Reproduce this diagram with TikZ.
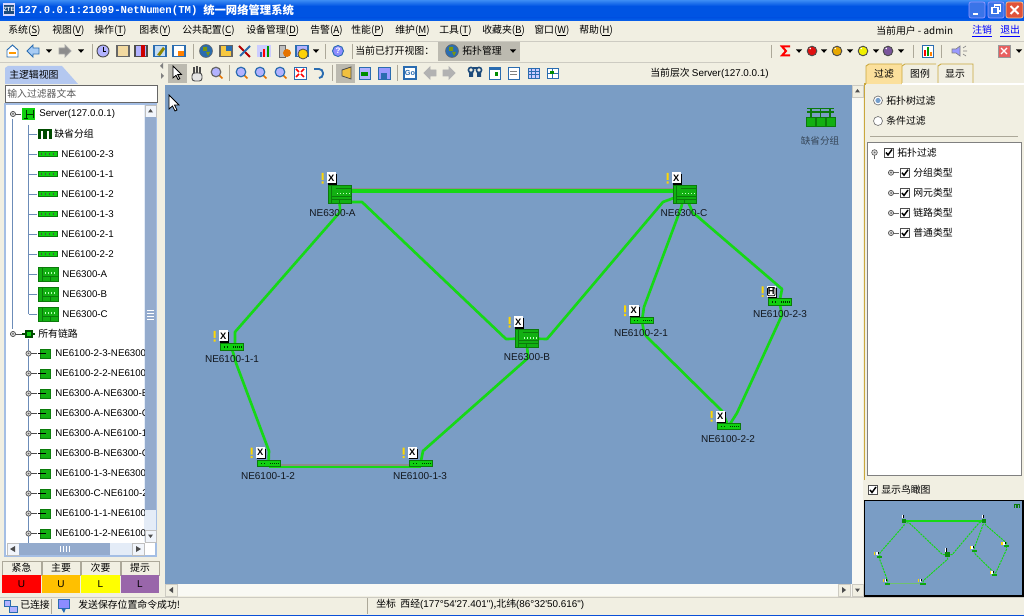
\documentclass[tikz,border=0pt]{standalone}
\usepackage{fontspec}
\setmainfont{Noto Sans CJK SC}
\newfontfamily\latf{Liberation Sans}
\newfontfamily\monof{Liberation Mono}
\usetikzlibrary{calc}
\pgfdeclarelayer{panel}
\pgfdeclarelayer{links}
\pgfsetlayers{panel,links,main}
\definecolor{ui}{HTML}{F1EFE2}
\definecolor{canvasblue}{HTML}{7A9DC5}
\definecolor{lnk}{HTML}{16D816}
\definecolor{dgreen}{HTML}{0B7A0B}
\definecolor{mgreen}{HTML}{12B012}
\definecolor{bgreen}{HTML}{10D010}
\definecolor{gold}{HTML}{C9A73C}
\definecolor{treeline}{HTML}{6C8CB8}
\definecolor{sbblue}{HTML}{A4BEE4}
\definecolor{icoblue}{HTML}{2A6CB0}
\definecolor{sep}{HTML}{ACA899}
\newcommand\hx[1]{\definecolor{c#1}{HTML}{#1}}
\hx{3C8CF4}\hx{0054E3}\hx{0A62EA}\hx{3A74E8}\hx{E0533A}\hx{A8CCF4}\hx{F2D9A0}\hx{F7C840}\hx{C4DCF4}\hx{E01010}\hx{E8A800}\hx{F0F000}\hx{7A559C}\hx{E86060}\hx{B4C8F0}\hx{F0C040}\hx{FBE09C}\hx{FF0000}\hx{FFC000}\hx{FFFF00}\hx{9966AA}\hx{0A50D8}
\newcommand\mi[2]{#1(\underline{#2})}
\newcommand\fs[1]{\fontsize{#1}{#1}\selectfont}
\tikzset{
  txt/.style={inner sep=0pt,anchor=west,font=\fs{7.4},text=black},
  mid/.style={inner sep=0pt,font=\fs{7.4},text=black},
  lat/.style={inner sep=0pt,anchor=west,font=\latf\fs{7.3},text=black},
  dlabel/.style={inner sep=0pt,font=\latf\fs{7.5},text=black!85!canvasblue},
  link/.style={draw=lnk,line width=2pt,line join=round},
  ne63/.style={draw=dgreen,fill=mgreen,line width=.6pt,minimum width=17.25pt,minimum height=13.5pt,inner sep=0pt},
  ne61/.style={draw=dgreen,fill=bgreen,line width=.6pt,minimum width=17.25pt,minimum height=4.8pt,inner sep=0pt},
  sepl/.style={draw=sep,line width=.6pt},
  pics/ne63in/.style={code={
    \draw[dgreen,line width=.5pt] (-8,-9)--(-8,9) (-8,2)--(11,2) (-8,5)--(11,5) (0,5)--(0,9) (-4,-6)--(11,-6);
    \foreach \u in {-3,0,3,6,9}{\fill[white!75!green] (\u,-1) rectangle ++(1.5,1.5);}
  }},
  pics/ne61in/.style={code={
    \foreach \u in {-8,-5,1,3,5,7,9}{\fill[black!80!green] (\u,-.5) rectangle ++(1.2,1.2);}
  }},
  pics/badge/.style={code={
    \fill[black] (-3.6,-4.4) rectangle (5.8,6.2);
    \fill[white] (-5,-6) rectangle (4.6,5);
    \node[inner sep=0pt,font=\latf\bfseries\fs{7},text=black] (bt) at (-.2,-.5) {#1};
    \fill[yellow!75!orange] (-9.8,-5.5) rectangle (-7.8,1.5) (-9.8,3) rectangle (-7.8,5.2);
  }},
  pics/dd/.style={code={\fill[black] (-3,-1.5)--(3,-1.5)--(0,1.8)--cycle;}},
  pics/globe/.style={code={\fill[#1] (0,0) circle (6.5);\fill[olive!70!green] (-3,-4) rectangle (1,0) (0,1) -- (4,1) -- (2,5) -- cycle;\draw[black!60,line width=.4pt] (0,0) circle (6.5);}},
  pics/magn/.style={code={\draw[orange!90!black,line width=1.2pt] (3,3)--(6.5,6.5);\draw[#1,fill=white!70!blue,line width=.9pt] (0,0) circle (4.8);}},
  pics/tbox/.style 2 args={code={\draw[#2,fill=#1,line width=.8pt] (-6,-5.5) rectangle (6,5.5);}},
  pics/arrw/.style 2 args={code={\draw[#2,fill=#1,line width=.6pt] (-6,0)--(0,-6)--(0,-3)--(6,-3)--(6,3)--(0,3)--(0,6)--cycle;}},
  pics/ball/.style={code={\draw[black!70,fill=#1,line width=.7pt] (0,0) circle (4.8);\fill[white] (-1.8,-2.5) circle (.8);}},
  pics/expd/.style={code={\draw[black!70,fill=black!15,line width=.5pt] (0,0) circle (2.6);\fill[black!60] (0,0) circle (1);}},
  pics/chk/.style={code={\draw[black!70,fill=white,line width=.6pt] (-4.5,-4.5) rectangle (4.5,4.5);\draw[black,line width=1.1pt] (-3,0)--(-1,2.5)--(3,-3);}},
  pics/grp/.style={code={
    \fill[#1] (-7,-5) rectangle (7,-3);
    \foreach \u in {-7,-1.7,3.6}{\fill[#1] (\u,-3) rectangle ++(3.4,8);}
  }},
  pics/cursor/.style={code={\draw[black,fill=white,line width=.6pt] (0,0)--(0,14)--(3.5,11)--(6,16)--(8,15)--(5.5,10)--(10,10)--cycle;}},
  pics/sarrow/.style={code={\fill[black!70] (-2.5,1.5)--(2.5,1.5)--(0,-2)--cycle;}},
}
\newcommand\Dev[9]{% kind,name,x,y,label,lx,ly,letter,badge dy
  \node[ne#1] (#2) at (#3,#4) {};
  \pic at (#2.center) {ne#1in};
  \pic at ($(#2.center)+(-8,#9)$) {badge=#8};
  \node[dlabel] (l#2) at (#6,#7) {#5};
}
% link routes: prefix, style
\newcommand\Routes[2]{%
  \draw[#2] (#1A.center)--(340,212)--(235,332)--(235,344)--(#1n11.center);
  \draw[#2] (#1A.center)--(351,202)--(362,202)--(506,339)--(#1B.center);
  \draw[#2] (#1B.center)--(547,339)--(663,202)--(#1C.center);
  \draw[#2] (#1B.center)--(528,358)--(423,451)--(#1n13.center);
  \draw[#2] (#1n11.center)--(236,363)--(269,451)--(#1n12.center);
  \draw[#2] (#1C.center)--(681,208)--(644,307)--(#1n21.center);
  \draw[#2] (#1C.center)--(693,213)--(697,216)--(782,289)--(#1n23.center);
  \draw[#2] (#1n21.center)--(644,333)--(647,337)--(722,411)--(#1n22.center);
  \draw[#2] (#1n23.center)--(782,315)--(737,413)--(#1n22.center);
}
\begin{document}
\begin{tikzpicture}[x=0.75pt,y=-0.75pt]
\useasboundingbox (0,0) rectangle (1024,616);
\begin{pgfonlayer}{panel}
  \fill[ui] (0,0) rectangle (1024,616);
  \fill[canvasblue] (165,85) rectangle (852,584);
\end{pgfonlayer}
% title bar
\shade[top color=c3C8CF4,bottom color=c0054E3] (0,0) rectangle (1024,6);
\fill[c0054E3] (0,6) rectangle (1024,18);
\shade[top color=c0054E3,bottom color=c0A62EA] (0,18) rectangle (1024,21);
\fill[white!85!blue] (3,3) rectangle (15,16);
\fill[icoblue!70!black] (4,5) rectangle (14,14);
\node[inner sep=0pt,font=\latf\bfseries\fs{4.5},text=white] (appico) at (9,9.5) {ZTE};
\node[inner sep=0pt,anchor=west,font=\monof\bfseries\fs{8},text=white] (title) at (18,10.5) {127.0.0.1:21099-NetNumen(TM)};
\node[inner sep=0pt,anchor=west,font=\bfseries\fs{8.5},text=white] (titlecn) at (203,10.5) {统一网络管理系统};
\foreach \n/\x in {a/969,b/988}{\draw[white!60!blue,fill=c3A74E8,rounded corners=1.5pt,line width=.5pt] (\x,2) rectangle ++(16,16);}
\draw[white,line width=1.2pt] (973,14)--(978,14);
\draw[white,line width=.8pt] (992,7.5) rectangle (998,13.5) (994.5,7.5)--(994.5,5)--(1000.5,5)--(1000.5,11)--(998,11);
\draw[white!60!orange,fill=cE0533A,rounded corners=1.5pt,line width=.5pt] (1006,2) rectangle (1023,18);
\draw[white,line width=1.4pt] (1010.5,6)--(1018.5,14) (1018.5,6)--(1010.5,14);
% menu
\foreach \n/\x/\t/\k in {a/8/系统/S,b/52/视图/V,c/94/操作/T,d/139/图表/Y,e/182/公共配置/C,f/246/设备管理/D,g/310/告警/A,h/351/性能/P,i/395/维护/M,j/439/工具/T,k/482/收藏夹/B,l/534/窗口/W,m/579/帮助/H}{
  \node[txt] (menu\n) at (\x,31) {\mi{\t}{\k}};
}
\node[txt] (user) at (876,31) {当前用户 - admin};
\node[txt,text=blue] (logout) at (972,31) {\underline{注销}};
\node[txt,text=blue] (quit) at (1000,31) {\underline{退出}};
\draw[sep!60!white,line width=.6pt] (0,41)--(1024,41);
% toolbar 1
\draw[icoblue,fill=white,line width=.7pt] (7,50)--(12.5,45)--(18,50)--(18,57)--(7,57)--cycle;
\fill[orange!80!yellow] (9,52) rectangle (16,54);
\pic at (33,51) {arrw={cA8CCF4}{icoblue}};
\pic at (49,51) {dd};
\begin{scope}[shift={(65,51)},xscale=-1]\pic[transform shape] at (0,0) {arrw={black!45}{black!35}};\end{scope}
\pic at (81,51) {dd};
\draw[sepl] (92,44)--(92,59);
\draw[black!70,fill=white!70!blue,line width=.7pt] (103,51) circle (6);
\draw[black,line width=.7pt] (103,47.5)--(103,51)--(105.5,51);
\pic at (123,51) {tbox={cF2D9A0}{black!60}};
\pic at (141,51) {tbox={white!70!blue}{black!70}};
\fill[red!80!black] (141,45) rectangle (145,57);
\pic at (160,51) {tbox={cC4DCF4}{icoblue}};
\fill[olive] (157,55)--(163,47)--(165,49)--(160,56)--cycle;
\pic at (179,51) {tbox={white}{icoblue}};
\fill[orange] (178,51) rectangle (184,56);
\draw[sepl] (193,44)--(193,59);
\pic at (206,51) {globe=icoblue};
\pic at (226,51) {tbox={cF7C840}{black!60}};
\fill[icoblue] (226,46) rectangle (232,51);
\draw[red!70!black,line width=1.4pt] (239,46)--(250,57);
\draw[icoblue,line width=1.4pt] (250,46)--(240,56);
\pic at (264,51) {tbox={white!80!blue}{white!80!blue}};
\fill[red] (263,49) rectangle (265,57);\fill[green!60!black] (267,46) rectangle (269,57);\fill[icoblue] (260,52) rectangle (262,57);
\draw[black!60,fill=black!25,line width=.6pt] (279,45) rectangle (285,57);
\fill[orange!90!black] (287,53) circle (4);
\pic at (302,51) {tbox={white!70!blue}{icoblue}};
\draw[black!70,fill=yellow!70!orange,line width=.6pt] (303,54) circle (5);
\pic at (316,51) {dd};
\draw[sepl] (325,44)--(325,59);
\draw[icoblue,fill=white!55!blue,line width=.7pt] (338,51) circle (5.5);
\node[inner sep=0pt,font=\latf\bfseries\fs{6},text=white] (help) at (338,51) {?};
\draw[sepl] (352,44)--(352,59);
\node[txt] (openview) at (355,51) {当前已打开视图：};
\fill[black!22!ui] (438,42) rectangle (520,61);
\pic at (452,51) {globe=icoblue};
\node[txt] (topo) at (462,51) {拓扑管理};
\pic at (513,51) {dd};
% right toolbar
\draw[sepl] (771,45)--(771,58);
\draw[red,line width=1.5pt] (790,46.5)--(782,46.5)--(786,51)--(782,55.5)--(790,55.5);
\pic at (799,51) {dd};
\pic at (812,51) {ball=cE01010};
\pic at (824,51) {dd};
\pic at (837,51) {ball=cE8A800};
\pic at (850,51) {dd};
\pic at (863,51) {ball=cF0F000};
\pic at (876,51) {dd};
\pic at (888,51) {ball=c7A559C};
\pic at (901,51) {dd};
\draw[sepl] (913,45)--(913,58);
\draw[icoblue,fill=white,line width=.7pt] (922,45) rectangle (933,57);
\fill[red] (924,50) rectangle (926,56);\fill[green!60!black] (927,47) rectangle (929,56);\fill[orange] (930,52) rectangle (932,56);
\draw[sepl] (941,45)--(941,58);
\draw[black!50,fill=white!60!blue,line width=.5pt] (952,49)--(956,49)--(960,46)--(960,56)--(956,53)--(952,53)--cycle;
\draw[black!50,line width=.5pt] (963,48)--(966,46) (963,51)--(967,51) (963,54)--(966,56);
\draw[black!40,fill=cE86060,line width=.5pt] (998,45) rectangle (1010,57);
\draw[white,line width=1pt] (1001,48)--(1007,54) (1007,48)--(1001,54);
\pic at (1019,51) {dd};
\draw[sep!60!white,line width=.6pt] (0,62)--(750,62);
% left tab
\fill[cB4C8F0] (5,84)--(5,68)--(8,66)--(62,66)--(78,84)--cycle;
\node[txt] (maintab) at (9,75) {主逻辑视图};
% toolbar 2
\fill[black!50] (163,63)--(160,66)--(163,69) (161,73)--(164,76)--(161,79);
\fill[black!22!ui] (168,64) rectangle (187,83);
\fill[black!22!ui] (336,64) rectangle (355,83);
\begin{scope}[shift={(173,66)},scale=.85]\pic[transform shape] at (0,0) {cursor};\end{scope}
\draw[black!70,fill=white!90!black,rounded corners=2pt,line width=.7pt] (192,73) rectangle (202,81);
\draw[black!70,line width=1.4pt] (194,73)--(194,67) (197,73)--(197,66) (200,73)--(200,67);
\pic at (216,72) {magn=black!60};
\draw[sepl] (229,65)--(229,81);
\pic at (241,72) {magn=icoblue};
\pic at (260,72) {magn=icoblue};
\pic at (280,72) {magn=icoblue};
\draw[icoblue,fill=white,line width=.7pt] (294,67) rectangle (306,79);
\draw[red,line width=1.1pt] (296,69)--(299,72) (304,69)--(301,72) (296,77)--(299,74) (304,77)--(301,74);
\draw[icoblue,line width=1.4pt,rounded corners=3pt] (314,69)--(323,69)--(323,78)--(319,78);
\draw[sepl] (332,65)--(332,81);
\draw[black!70,fill=cF0C040,line width=.6pt] (351,67)--(351,79)--(342,76)--(342,70)--cycle;
\draw[icoblue,fill=white!70!blue,line width=.7pt] (359,67) rectangle (370,79);
\fill[green!55!black] (361,72) rectangle (368,76);
\draw[icoblue,fill=white!60!blue,line width=.7pt] (378,67) rectangle (390,79);
\fill[icoblue] (381,73) rectangle (387,79);
\draw[sepl] (397,65)--(397,81);
\draw[icoblue,fill=white,line width=.8pt] (404,67) rectangle (416,79);
\node[inner sep=0pt,font=\latf\bfseries\fs{5.5},text=icoblue] (go) at (410,73) {Go};
\pic at (430,73) {arrw={black!30}{black!30}};
\begin{scope}[shift={(449,73)},xscale=-1]\pic[transform shape] at (0,0) {arrw={black!30}{black!30}};\end{scope}
\draw[icoblue!70!black,line width=1.2pt] (471,70) circle (2.6) (479,70) circle (2.6) (473,68)--(477,68);
\fill[icoblue!70!black] (469,72) rectangle (473,77) (477,72) rectangle (481,77);
\draw[icoblue,fill=white,line width=.7pt] (489,67) rectangle (500,79);
\fill[icoblue] (489,67) rectangle (500,70);\fill[green!55!black] (495,72) rectangle (498,76);
\draw[icoblue,fill=white,line width=.7pt] (508,67) rectangle (519,79);
\draw[black!50,line width=.5pt] (510,71)--(517,71) (510,74)--(517,74);
\draw[icoblue,fill=white!80!blue,line width=.7pt] (528,68) rectangle (539,78);
\draw[icoblue,line width=.4pt] (528,71)--(539,71) (528,74.5)--(539,74.5) (531.5,68)--(531.5,78) (535,68)--(535,78);
\draw[icoblue,fill=white,line width=.7pt] (547,68) rectangle (558,78);
\draw[icoblue,line width=.5pt] (552,68)--(552,78) (547,73)--(558,73);
\fill[green!55!black] (550,71.5) rectangle (554,74);
\node[txt] (level) at (650,73) {当前层次\ {\latf Server(127.0.0.1)}};
% right tabs
\fill[cFBE09C] (866,84)--(866,66)--(869,64)--(902,64)--(902,84)--cycle;
\draw[gold,line width=.7pt] (866,84)--(866,66)--(869,64)--(902,64);
\draw[gold,line width=.7pt] (902,84)--(902,66)--(905,64)--(936,64);
\draw[gold,line width=.7pt] (938,84)--(938,66)--(941,64)--(973,64)--(973,84);
\node[mid] (tab1) at (884,74) {过滤};
\node[mid] (tab2) at (920,74) {图例};
\node[mid] (tab3) at (955,74) {显示};
\draw[gold,line width=.8pt] (864.5,480)--(864.5,84)--(866,84);
\draw[white,line width=.8pt] (902,84)--(1024,84);
% right panel
\draw[black!55,fill=white,line width=.5pt] (878,100.5) circle (4.5);
\fill[icoblue!65!white] (878,100.5) circle (2.6);
\node[txt] (rad1) at (886,101) {拓扑树过滤};
\draw[black!55,fill=white,line width=.5pt] (878,121) circle (4.5);
\node[txt] (rad2) at (886,121) {条件过滤};
\draw[sep,line width=.6pt] (870,136)--(1018,136);
\draw[black!50,fill=white,line width=.7pt] (867,142) rectangle (1021,475);
\draw[black!65,fill=black!12,line width=.5pt] (874.5,152.5) circle (2.8);
\fill[black!60] (874.5,152.5) circle (1);
\draw[black!60,line width=.6pt] (874.5,155)--(874.5,159);
\pic at (889,152.5) {chk};
\node[txt] (flt0) at (897,153) {拓扑过滤};
\foreach \n/\y/\t in {a/172.7/分组类型,b/193/网元类型,c/213/链路类型,d/233/普通类型}{
  \pic at (891,\y) {expd};
  \draw[black!60,line width=.6pt] (893.5,\y)--(899,\y);
  \pic at (905,\y) {chk};
  \node[txt] (flt\n) at (913,\y) {\t};
}
\pic at (873,490) {chk};
\node[txt] (showmap) at (881,490) {显示鸟瞰图};
% splitter + canvas scrollbars
\fill[white!60!ui] (852,85) rectangle (863,584);
\draw[sep!60!white,fill=ui,line width=.4pt] (852.5,85.5) rectangle (863,97);
\pic at (857.5,91) {sarrow};
\draw[sep!60!white,fill=ui,line width=.4pt] (852.5,584) rectangle (863,596);
\begin{scope}[shift={(857.5,590)},yscale=-1]\pic[transform shape] at (0,0) {sarrow};\end{scope}
\fill[white!60!ui] (165,584) rectangle (852,596);
\draw[sep!60!white,fill=ui,line width=.4pt] (165.5,584.5) rectangle (177,596);
\fill[black!70] (169,590)--(173,587)--(173,593)--cycle;
\draw[sep!60!white,fill=ui,line width=.4pt] (838,584.5) rectangle (850,596);
\fill[black!70] (846,590)--(842,587)--(842,593)--cycle;
% left panel
\draw[black!60,fill=white,line width=.6pt] (5,85) rectangle (157,102);
\node[txt,text=black!65] (filter) at (7,93.5) {输入过滤器文本};
\draw[sbblue,fill=white,line width=.8pt] (5,104) rectangle (156,556);
\fill[white!70!sbblue] (144,105) rectangle (156,542);
\draw[black!25,fill=white!85!sbblue,line width=.4pt] (145,105) rectangle (156,117);
\pic at (150.5,111) {sarrow};
\fill[sbblue!90!black] (145,117) rectangle (156,510);
\draw[white,line width=.4pt] (147,310)--(154,310) (147,313)--(154,313) (147,316)--(154,316) (147,319)--(154,319);
\draw[black!25,fill=white!85!sbblue,line width=.4pt] (145,530) rectangle (156,542);
\begin{scope}[shift={(150.5,536)},yscale=-1]\pic[transform shape] at (0,0) {sarrow};\end{scope}
\fill[white!70!sbblue] (7,543) rectangle (144,555);
\draw[black!25,fill=white!85!sbblue,line width=.4pt] (7,543) rectangle (19,555);
\fill[black!70] (10,549)--(15,546)--(15,552)--cycle;
\fill[sbblue!90!black] (19,543) rectangle (110,555);
\draw[white,line width=.4pt] (60,546)--(60,552) (63,546)--(63,552) (66,546)--(66,552) (69,546)--(69,552);
\draw[black!25,fill=white!85!sbblue,line width=.4pt] (132,543) rectangle (144,555);
\fill[black!70] (141,549)--(136,546)--(136,552)--cycle;
\begin{scope}
\clip (7,105) rectangle (144,542);
\draw[treeline,line width=.7pt] (12.5,119)--(12.5,329) (28.5,125)--(28.5,314) (28.5,339)--(28.5,545);
\pic at (13,114) {expd};
\draw[black!70,line width=.6pt] (16,114)--(21,114);
\fill[bgreen] (22,108) rectangle (35,120);
\draw[black!80!green,line width=.5pt] (26,110)--(26,118) (26,114)--(33,114) (33,110)--(33,118) (24,118)--(28,118);
\node[lat] (srv) at (39,114) {Server(127.0.0.1)};
\draw[treeline,line width=.7pt] (28.5,134)--(37,134);
\pic at (45,134) {grp=black!70!green};
\node[txt] (defg) at (54,134) {缺省分组};
\foreach \n/\y/\t in {a/154/NE6100-2-3,b/174/NE6100-1-1,c/194/NE6100-1-2,d/214/NE6100-1-3,e/234/NE6100-2-1,f/254/NE6100-2-2}{
  \draw[treeline,line width=.7pt] (28.5,\y)--(37,\y);
  \fill[bgreen] (38,\y-2.5) rectangle (57,\y+2.5);
  \draw[dgreen,line width=.4pt] (38,\y-2.5) rectangle (57,\y+2.5);
  \foreach \u in {41,45,49,53}{\fill[black!70] (\u,\y-.5) rectangle ++(1.2,1.2);}
  \node[lat] (tree\n) at (61,\y) {\t};
}
\foreach \n/\y/\t in {g/274/NE6300-A,h/294/NE6300-B,i/314/NE6300-C}{
  \draw[treeline,line width=.7pt] (28.5,\y)--(37,\y);
  \draw[dgreen,fill=mgreen,line width=.5pt] (38,\y-7) rectangle (58,\y+7);
  \draw[dgreen,line width=.5pt] (42,\y-7)--(42,\y+7) (42,\y+2)--(58,\y+2) (50,\y+2)--(50,\y+7);
  \foreach \u in {45,48,51,54}{\fill[white!70!green] (\u,\y-1.5) rectangle ++(1.3,1.3);}
  \node[lat] (tree\n) at (62,\y) {\t};
}
\pic at (13,334) {expd};
\draw[black!70,line width=.6pt] (16,334)--(22,334);
\draw[black!70!green,line width=1.2pt] (22,334)--(35,334);
\draw[black!70!green,line width=1pt,fill=bgreen] (26,331) rectangle (32,337);
\node[txt] (alllinks) at (38,334) {所有链路};
\foreach \n/\y/\t in {
 a/353.5/NE6100-2-3-NE6300-C,b/373.5/NE6100-2-2-NE6100-2-1,c/393.5/NE6300-A-NE6300-B,d/413.5/NE6300-A-NE6300-C,e/433.5/NE6300-A-NE6100-1-1,
 f/453.5/NE6300-B-NE6300-C,g/473.5/NE6100-1-3-NE6300-B,h/493.5/NE6300-C-NE6100-2-1,i/513.5/NE6100-1-1-NE6100-1-2,j/533.5/NE6100-1-2-NE6100-1-3}{
  \pic at (28.5,\y) {expd};
  \draw[black!70,line width=.6pt] (31,\y)--(37,\y);
  \draw[dgreen,fill=mgreen,line width=.5pt] (40,\y-4.5) rectangle (50,\y+4.5);
  \draw[black,line width=.6pt] (38,\y)--(46,\y);
  \node[lat] (lk\n) at (55,\y) {\t};
}
\end{scope}
% alarm summary
\foreach \n/\x/\w/\t/\c/\v in {a/2/39/紧急/cFF0000/U,b/42/38/主要/cFFC000/U,c/81/39/次要/cFFFF00/L,d/121/38/提示/c9966AA/L}{
  \draw[sep,fill=ui,line width=.4pt] (\x,561) rectangle ++(\w,14);
  \fill[\c] (\x,575) rectangle ++(\w,18);
  \node[mid] (ah\n) at ($(\x,568)+(\w/2,0)$) {\t};
  \node[inner sep=0pt,font=\latf\fs{7.5},text=black] (av\n) at ($(\x,584)+(\w/2,0)$) {\v};
}
% status bar
\draw[sep!60!white,line width=.6pt] (0,597)--(1024,597);
\fill[c0A50D8] (0,615) rectangle (1024,616);
\draw[icoblue,fill=white!70!blue,line width=.6pt] (4,600) rectangle (10,606);
\draw[icoblue,fill=white!70!blue,line width=.6pt] (9,606) rectangle (17,612);
\node[txt] (conn) at (20,605) {已连接};
\draw[sepl] (51,599)--(51,614);
\draw[icoblue,fill=white!55!blue,line width=.6pt] (58,599) rectangle (69,608);
\fill[icoblue] (61,608)--(66,608)--(64,613)--cycle;
\node[txt] (sendmsg) at (78,604.5) {发送保存位置命令成功!};
\draw[sepl] (367,598)--(367,614);
\node[txt] (coord) at (376,604.5) {坐标\ \ 西经{\latf (177°54'27.401")},北纬{\latf (86°32'50.616")}};
% cursor on canvas
\pic at (169,95) {cursor};
% device group
\draw[dgreen,line width=.9pt] (807,108.5)--(834,108.5) (811,108.5)--(811,118) (820.5,108.5)--(820.5,118) (830,108.5)--(830,118) (807,112)--(834,112);
\foreach \u in {806,816,826}{\draw[dgreen,fill=mgreen,line width=.6pt] (\u,117) rectangle ++(9,9);}
\node[inner sep=0pt,font=\fs{7.2},text=black!55!canvasblue] (grplabel) at (820,141) {缺省分组};
% devices
\Dev{63}{A}{339.5}{194}{NE6300-A}{332.5}{213}{X}{-15.5}
\Dev{63}{C}{684.5}{194}{NE6300-C}{684}{213}{X}{-15.5}
\Dev{63}{B}{526.5}{338.5}{NE6300-B}{527}{357}{X}{-16}
\Dev{61}{n11}{231.5}{347}{NE6100-1-1}{232}{359.5}{X}{-10.5}
\Dev{61}{n12}{268.5}{463.5}{NE6100-1-2}{268}{476}{X}{-10.5}
\Dev{61}{n13}{420.5}{463.5}{NE6100-1-3}{420}{476}{X}{-10.5}
\Dev{61}{n21}{642}{320.5}{NE6100-2-1}{641}{333}{X}{-9.5}
\Dev{61}{n23}{779.5}{302}{NE6100-2-3}{780}{314.5}{H}{-10}
\draw[black,line width=.6pt,rounded corners=.8pt] (767.5,287.5) rectangle (775,295.8);
\Dev{61}{n22}{728.5}{426.5}{NE6100-2-2}{728}{439.5}{X}{-10}
\begin{pgfonlayer}{links}
  \draw[black!45,line width=.8pt] (A.center |- 0,188.6) -- (C.center |- 0,188.6);
  \draw[link,line width=2.8pt] (A.center |- 0,191) -- (C.center |- 0,191);
  \draw[black!45,line width=.8pt] (n12.center |- 0,465) -- (n13.center |- 0,465);
  \draw[link] (n12.center |- 0,467) -- (n13.center |- 0,467);
  \Routes{}{link}
\end{pgfonlayer}
% bird's-eye view
\draw[black,fill=canvasblue,line width=1pt] (864.5,500.5) rectangle (1023,596);
\begin{scope}[shift={(904,521)},scale=.232,shift={(-339.5,-194)}]
  \foreach \n/\x/\y in {A/339.5/194,B/526.5/338.5,C/684.5/194,n11/231.5/347,n12/268.5/463.5,n13/420.5/463.5,n21/642/320.5,n22/728.5/426.5,n23/779.5/302}{
    \coordinate (m\n) at (\x,\y);
  }
  \draw[lnk,line width=1.2pt] (mA.center) -- (mC.center);
  \draw[lnk!70!black!60,line width=.7pt] (mn12.center) -- (mn13.center);
  \Routes{m}{lnk,line width=.75pt,dash pattern=on 1.6pt off .7pt}
  \foreach \n in {A,B,C}{
    \fill[mgreen!80!black] ($(m\n.center)+(-10,-9)$) rectangle ($(m\n.center)+(10,9)$);
    \fill[white] ($(m\n.center)+(-10,-28)$) rectangle ($(m\n.center)+(-4,-12)$);
    \fill[black] ($(m\n.center)+(-4,-28)$) rectangle ($(m\n.center)+(0,-12)$);
  }
  \foreach \n in {n11,n12,n13,n21,n22,n23}{
    \fill[bgreen!80!black] ($(m\n.center)+(-10,-3)$) rectangle ($(m\n.center)+(12,5)$);
    \fill[white] ($(m\n.center)+(-12,-19)$) rectangle ($(m\n.center)+(-6,-5)$);
    \fill[yellow!75!orange] ($(m\n.center)+(-20,-19)$) rectangle ($(m\n.center)+(-15,-5)$);
    \fill[black] ($(m\n.center)+(-6,-19)$) rectangle ($(m\n.center)+(-2,-9)$);
  }
\end{scope}
\begin{scope}[shift={(1017,506)},scale=.45]\pic[transform shape] at (0,0) {grp=dgreen};\end{scope}
\end{tikzpicture}
\end{document}
